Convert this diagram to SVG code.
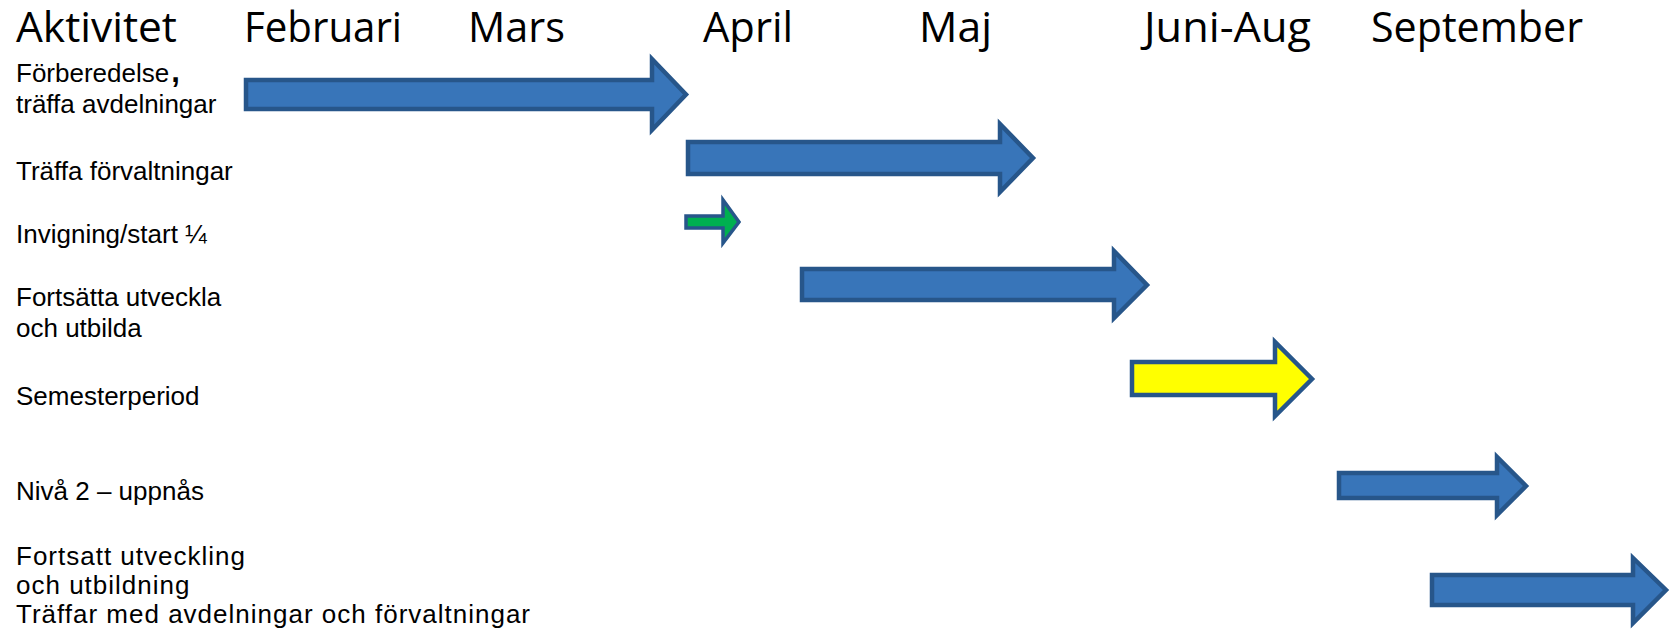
<svg xmlns="http://www.w3.org/2000/svg" width="1679" height="635" viewBox="0 0 1679 635">
<style>
.hdr{font-family:"Open Sans","Liberation Sans",sans-serif;font-size:42px;fill:#000}
.lbl{font-family:"Liberation Sans",Arial,sans-serif;font-size:26px;fill:#000}
.wide{letter-spacing:1px}
.blue{fill:#3875B9;stroke:#27568A;stroke-width:4.5;stroke-linejoin:miter}
.yellow{fill:#FFFF00;stroke:#27568A;stroke-width:4.5;stroke-linejoin:miter}
.green{fill:#00B050;stroke:#27568A;stroke-width:3.5;stroke-linejoin:miter}
</style>
<rect width="1679" height="635" fill="#fff"/>
<g id="headers">
<text class="hdr" x="16" y="42" textLength="161" lengthAdjust="spacingAndGlyphs">Aktivitet</text>
<text class="hdr" x="244" y="42" textLength="158" lengthAdjust="spacingAndGlyphs">Februari</text>
<text class="hdr" x="468" y="42" textLength="97" lengthAdjust="spacingAndGlyphs">Mars</text>
<text class="hdr" x="703" y="42" textLength="90" lengthAdjust="spacingAndGlyphs">April</text>
<text class="hdr" x="919" y="42" textLength="73" lengthAdjust="spacingAndGlyphs">Maj</text>
<text class="hdr" x="1144" y="42" textLength="167" lengthAdjust="spacingAndGlyphs">Juni-Aug</text>
<text class="hdr" x="1371" y="42" textLength="212" lengthAdjust="spacingAndGlyphs">September</text>
</g>
<g id="labels">
<text class="lbl" x="16" y="82">Förberedelse<tspan dx="2" font-size="31" font-weight="bold">,</tspan></text>
<text class="lbl" x="16" y="113">träffa avdelningar</text>
<text class="lbl" x="16" y="180">Träffa förvaltningar</text>
<text class="lbl" x="16" y="243">Invigning/start ¼</text>
<text class="lbl" x="16" y="306">Fortsätta utveckla</text>
<text class="lbl" x="16" y="337">och utbilda</text>
<text class="lbl" x="16" y="405">Semesterperiod</text>
<text class="lbl" x="16" y="500">Nivå 2 – uppnås</text>
<text class="lbl wide" x="16" y="565">Fortsatt utveckling</text>
<text class="lbl wide" x="16" y="594">och utbildning</text>
<text class="lbl wide" x="16" y="623">Träffar med avdelningar och förvaltningar</text>
</g>
<g id="arrows">
<polygon id="a1" class="blue" points="246,80 652,80 652,59 686,94.5 652,130 652,109 246,109"/>
<polygon id="a2" class="blue" points="688,142 1000,142 1000,124 1033,158 1000,192 1000,174 688,174"/>
<polygon id="a3" class="green" points="686,216 723,216 723,200 739,222 723,243 723,228 686,228"/>
<polygon id="a4" class="blue" points="802,269 1114,269 1114,251 1147,285 1114,318 1114,300 802,300"/>
<polygon id="a5" class="yellow" points="1132,362 1275,362 1275,342 1312,379 1275,416 1275,395 1132,395"/>
<polygon id="a6" class="blue" points="1339,473 1497,473 1497,457 1526,486 1497,515 1497,498 1339,498"/>
<polygon id="a7" class="blue" points="1432,575 1633,575 1633,558 1666,590 1633,623 1633,605 1432,605"/>
</g>
</svg>
